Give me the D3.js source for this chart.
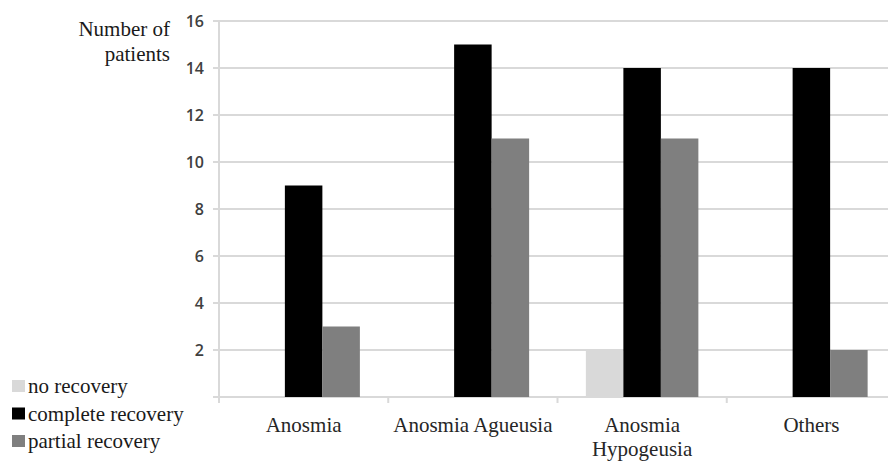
<!DOCTYPE html>
<html><head><meta charset="utf-8">
<script src="https://cdn.jsdelivr.net/npm/d3@7"></script>
</head><body style="margin:0;background:#fff">
<svg id="c" width="888" height="461" style="display:block"></svg>
<script>
const categories = [["Anosmia"], ["Anosmia Agueusia"], ["Anosmia", "Hypogeusia"], ["Others"]];
const series = ["no recovery", "complete recovery", "partial recovery"];
const noRecovery = [0, 0, 2, 0];
const completeRecovery = [9, 15, 14, 14];
const partialRecovery = [3, 11, 11, 2];
const yTicks = [2, 4, 6, 8, 10, 12, 14, 16];
const colors = ["#d9d9d9", "#000000", "#7f7f7f"];

(function () {
const SERIF = "Liberation Serif";
const values = [noRecovery, completeRecovery, partialRecovery];
const svg = d3.select("#c");
const mLeft = 219, mRight = 896, mTop = 21, mBottom = 397;
const x = d3.scaleBand().domain(d3.range(categories.length)).range([mLeft, mRight]).paddingInner(0).paddingOuter(0);
const bw = 37.5;
const x1 = d3.scaleBand().domain(d3.range(series.length)).range([0, bw * 3]);
const y = d3.scaleLinear().domain([0, 16]).range([mBottom, mTop]);

svg.append("g").selectAll("line").data(yTicks).join("line")
  .attr("x1", mLeft - 6).attr("x2", 888)
  .attr("y1", d => y(d)).attr("y2", d => y(d))
  .attr("stroke", "#d9d9d9").attr("stroke-width", 2);

svg.append("line").attr("x1", mLeft).attr("x2", mLeft).attr("y1", y(16)).attr("y2", mBottom + 5)
  .attr("stroke", "#d9d9d9").attr("stroke-width", 2);
svg.append("line").attr("x1", mLeft - 6).attr("x2", 888).attr("y1", mBottom).attr("y2", mBottom)
  .attr("stroke", "#d9d9d9").attr("stroke-width", 2);
svg.append("g").selectAll("line").data(d3.range(categories.length)).join("line")
  .attr("x1", d => x(d)).attr("x2", d => x(d))
  .attr("y1", mBottom).attr("y2", mBottom + 6)
  .attr("stroke", "#d9d9d9").attr("stroke-width", 2);

svg.append("g").selectAll("text").data(yTicks).join("text")
  .attr("x", 204).attr("y", d => y(d)).attr("dy", "0.35em")
  .attr("text-anchor", "end")
  .attr("font-family", "Open Sans").attr("font-weight", "600").attr("font-size", "16")
  .attr("fill", "#404040")
  .text(d => d);

const groups = svg.append("g").selectAll("g").data(d3.range(categories.length)).join("g")
  .attr("transform", i => `translate(${x(i) + (x.bandwidth() - bw * 3) / 2},0)`);
groups.selectAll("rect").data(i => values.map((s, k) => ({k, v: s[i]}))).join("rect")
  .attr("x", d => x1(d.k)).attr("width", x1.bandwidth())
  .attr("y", d => y(d.v)).attr("height", d => mBottom - y(d.v))
  .attr("fill", d => colors[d.k]);

const cl = svg.append("g").selectAll("text").data(categories).join("text")
  .attr("x", (d, i) => x(i) + x.bandwidth() / 2).attr("y", 432)
  .attr("text-anchor", "middle")
  .attr("font-family", SERIF).attr("font-size", "21")
  .attr("fill", "#262626");
cl.selectAll("tspan").data(d => d).join("tspan")
  .attr("x", function() { return this.parentNode.getAttribute("x"); })
  .attr("dy", (d, j) => j === 0 ? 0 : 24)
  .text(d => d);

const t = svg.append("text").attr("text-anchor", "end")
  .attr("font-family", SERIF).attr("font-size", "21")
  .attr("fill", "#1a1a1a");
t.append("tspan").attr("x", 170).attr("y", 36).text("Number of");
t.append("tspan").attr("x", 170).attr("y", 61).text("patients");

const lg = svg.append("g").selectAll("g").data(series).join("g")
  .attr("transform", (d, i) => `translate(12,${393 + i * 27.5})`);
lg.append("rect").attr("x", 0).attr("y", -13).attr("width", 13).attr("height", 12)
  .attr("fill", (d, i) => colors[i]);
lg.append("text").attr("x", 16).attr("y", 0)
  .attr("font-family", SERIF).attr("font-size", "21")
  .attr("fill", "#1a1a1a")
  .text(d => d);
})();
</script>
</body></html>
